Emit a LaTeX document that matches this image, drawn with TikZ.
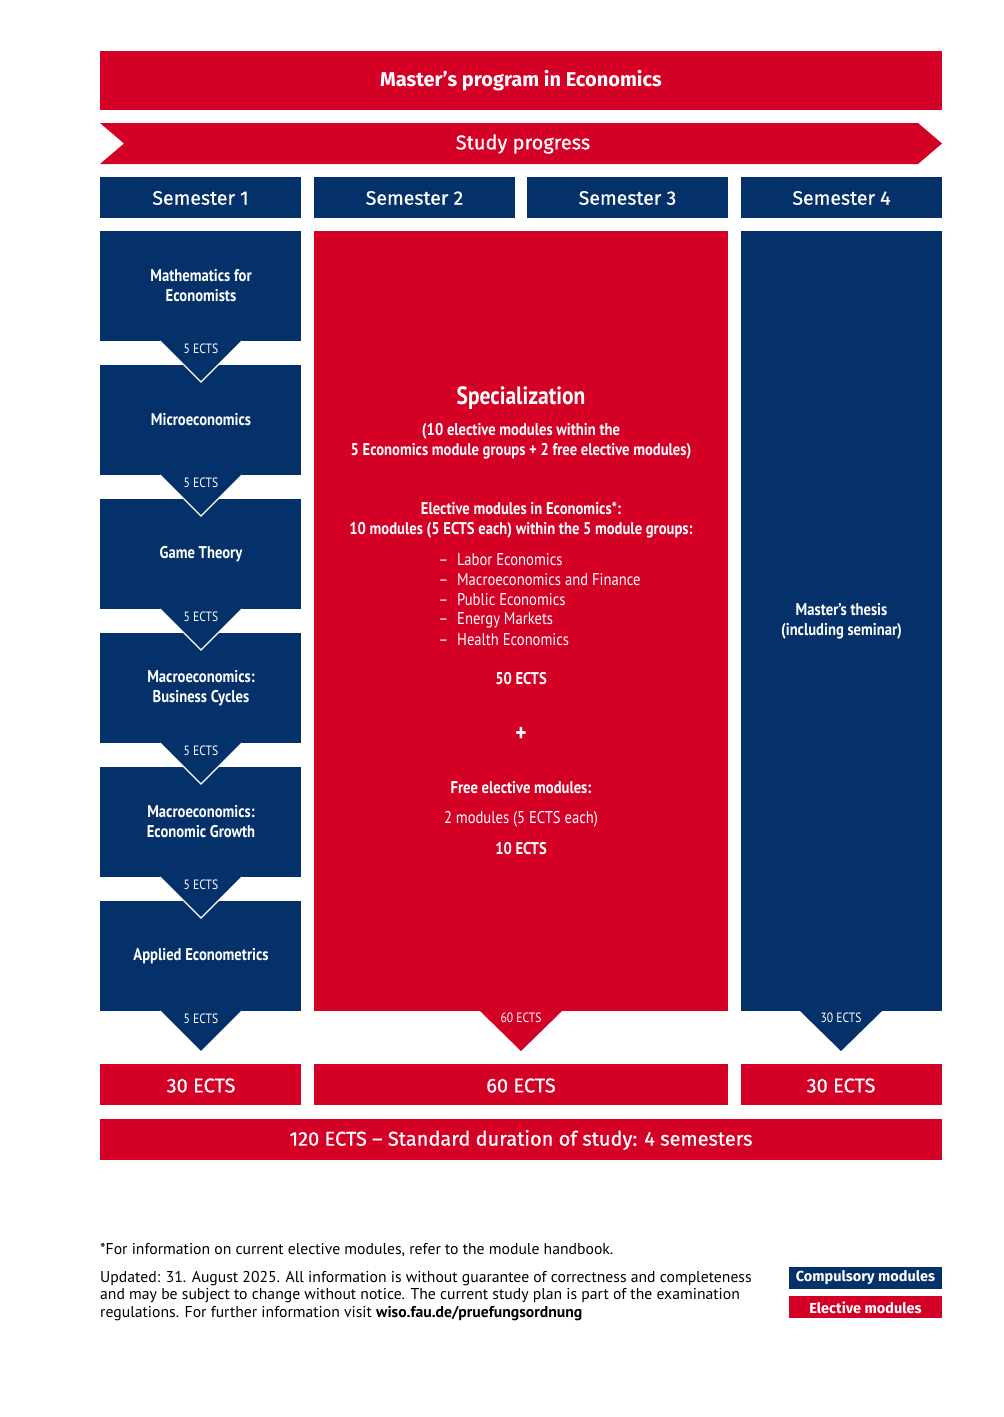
\documentclass[tikz,border=0pt]{standalone}
\usepackage{fontspec}
\setmainfont{PT Sans}
\newfontfamily\condfont[FakeStretch=0.86]{PT Sans}
\newfontfamily\headfont[FakeBold=0.6]{Fira Sans}
\newfontfamily\headbold{Fira Sans}
\usetikzlibrary{positioning}
\definecolor{faured}{HTML}{D40026}
\definecolor{faublue}{HTML}{04316A}

\tikzset{
  headtext/.style={text=white,font=\headfont\fontsize{20}{24}\selectfont},
  modtext/.style={text=white,align=center,
    font=\condfont\bfseries\fontsize{17}{20}\selectfont},
  ectstext/.style={text=white,font=\condfont\fontsize{13.5}{15}\selectfont},
  spectext/.style={text=white,align=center,
    font=\condfont\bfseries\fontsize{17}{20}\selectfont},
  listtext/.style={text=white,anchor=west,
    font=\condfont\fontsize{17}{20}\selectfont},
  tab/.style={draw=white,line width=1.2pt},
  legendbox/.style={text=white,minimum width=153pt,minimum height=22pt,
    inner sep=0pt,font=\headbold\bfseries\fontsize{14.5}{16}\selectfont}
}

\begin{document}
\begin{tikzpicture}[x=1pt,y=-1pt]
\path[use as bounding box] (0,0) rectangle (1004,1417);

% Title and study progress arrow
\fill[faured] (100,51) rectangle (942,110);
\node[headtext,font=\headbold\bfseries\fontsize{20}{24}\selectfont] (title) at (521,81)
  {Master’s program in Economics};
\fill[faured] (100,123) -- (918,123) -- (942,143.5) -- (918,164) -- (100,164)
  -- (124,143.5) -- cycle;
\node[headtext] (progress) at (523,144)
  {Study progress};

% Semester headers
\foreach \x/\i in {100/1,314/2,527/3,741/4} {
  \fill[faublue] (\x,177) rectangle (\x+201,218);
  \node[headtext,font=\headfont\fontsize{19.5}{24}\selectfont] (sem\i) at (\x+100.5,198)
    {Semester \i};
}

% Semester 1: compulsory modules first, then the 5 ECTS tabs on top
\foreach \y/\label [count=\i] in {231/{Mathematics for\\Economists},
    365/Microeconomics,499/Game Theory,
    633/{Macroeconomics:\\Business Cycles},
    767/{Macroeconomics:\\Economic Growth},901/Applied Econometrics} {
  \fill[faublue] (100,\y) rectangle (301,\y+110);
  \node[modtext] (mod\i) at (201,\y+55) {\label};
}
\foreach \y [count=\i] in {231,365,499,633,767,901} {
  \fill[faublue] (160,\y+110) -- (242,\y+110) -- (201,\y+151) -- cycle;
  \draw[tab] (160,\y+110) -- (201,\y+151) -- (242,\y+110);
  \node[ectstext] (ects\i) at (201,\y+118) {5 ECTS};
}

% Semesters 2 and 3: specialization
\fill[faured] (314,231) rectangle (728,1011);
\fill[faured] (480,1011) -- (562,1011) -- (521,1051) -- cycle;
\node[spectext,font=\condfont\bfseries\fontsize{25}{28}\selectfont] (spec) at (521,398)
  {Specialization};
\node[spectext] (specsub) at (521,441)
  {(10 elective modules within the\\
   5 Economics module groups + 2 free elective modules)};
\node[spectext] (econ) at (521,520)
  {Elective modules in Economics*:\\
   10 modules (5 ECTS each) within the 5 module groups:};
\foreach \y/\label [count=\i] in {560/Labor Economics,
    580/Macroeconomics and Finance,600/Public Economics,
    620/Energy Markets,639.5/Health Economics} {
  \node[listtext] (group\i) at (435,\y) {–\hspace{9pt}\label};
}
\node[spectext] (fifty) at (521,679) {50 ECTS};
\node[spectext,font=\condfont\bfseries\fontsize{25}{26}\selectfont] (plus) at (521,734) {+};
\node[spectext] (free) at (521,788) {Free elective modules:};
\node[listtext,anchor=center] (freemods) at (521,819) {2 modules (5 ECTS each)};
\node[spectext] (ten) at (521,849) {10 ECTS};
\node[ectstext] (ectsspec) at (521,1018) {60 ECTS};

% Semester 4: thesis
\fill[faublue] (741,231) rectangle (942,1011);
\fill[faublue] (800,1011) -- (882,1011) -- (841,1051) -- cycle;
\node[modtext] (thesis) at (841.5,621) {Master’s thesis\\(including seminar)};
\node[ectstext] (ectsthesis) at (841,1018) {30 ECTS};

% ECTS totals
\fill[faured] (100,1064) rectangle (301,1105);
\fill[faured] (314,1064) rectangle (728,1105);
\fill[faured] (741,1064) rectangle (942,1105);
\node[headtext] (sumone) at (201,1085.5) {30 ECTS};
\node[headtext] (sumtwo) at (521,1085.5) {60 ECTS};
\node[headtext] (sumthree) at (841,1085.5) {30 ECTS};
\fill[faured] (100,1119) rectangle (942,1160);
\node[headtext] (total) at (521,1140)
  {120 ECTS – Standard duration of study: 4 semesters};

% Notes and legend
\node[anchor=west,inner sep=0pt,font=\fontsize{15.7}{17.5}\selectfont] (note) at (100,1250)
  {*For information on current elective modules, refer to the module handbook.};
\node[anchor=west,align=left,inner sep=0pt,font=\fontsize{15.7}{17.5}\selectfont]
  (updated) at (100,1296)
  {Updated: 31. August 2025. All information is without guarantee of correctness and completeness\\
   and may be subject to change without notice. The current study plan is part of the examination\\
   regulations. For further information visit \textbf{wiso.fau.de/pruefungsordnung}};
\node[legendbox,fill=faublue] (compulsory) at (865.5,1278) {Compulsory modules};
\node[legendbox,fill=faured,below=7pt of compulsory] (elective) {Elective modules};
\end{tikzpicture}
\end{document}
